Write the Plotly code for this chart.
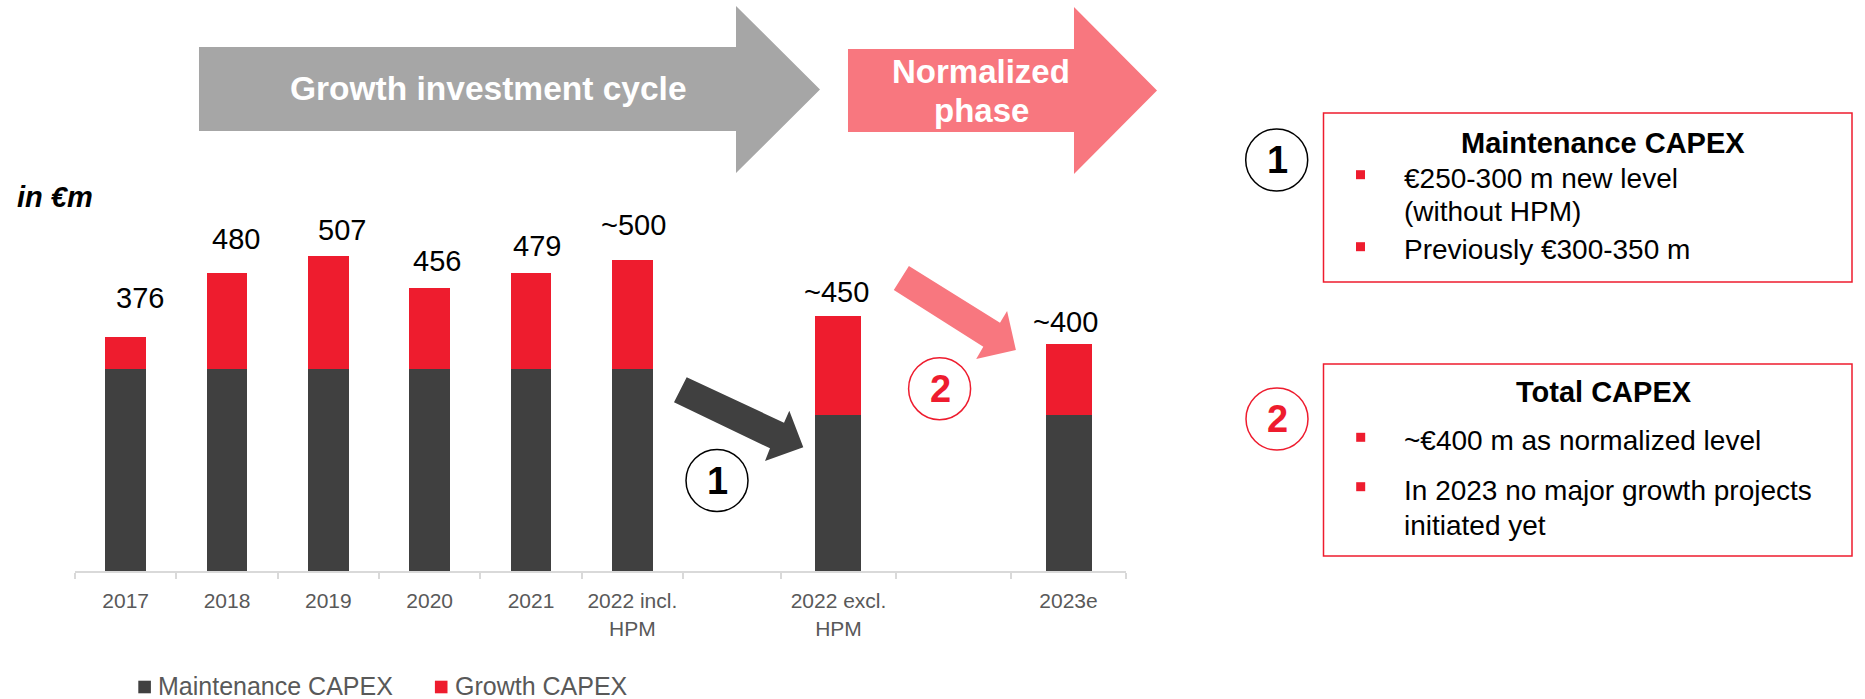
import plotly.graph_objects as go

# ---------------- data ----------------
series_names = ["Maintenance CAPEX", "Growth CAPEX"]

categories_left = ["2017", "2018", "2019", "2020", "2021", "2022 incl.<br>HPM"]
maintenance_left = [325, 325, 325, 325, 325, 325]
growth_left = [51, 155, 182, 131, 154, 175]
total_labels_left = ["376", "480", "507", "456", "479", "~500"]

categories_right = ["2022 excl.<br>HPM", "2023e"]
maintenance_right = [275, 275]
growth_right = [175, 125]
total_labels_right = ["~450", "~400"]

# ---------------- style / layout helpers ----------------
W, H = 1865, 699
FONT = "Liberation Sans, Arial, sans-serif"
DARK = "#404040"
RED = "#EE1C2E"
PINK = "#F8777F"
GREY_ARROW = "#A6A6A6"
AXIS_GREY = "#D9D9D9"
TXT_GREY = "#595959"
series_colors = [DARK, RED]


def fx(x):
    return x / W


def fy(y):
    return 1 - y / H


def poly(points):
    return "M " + " L ".join(f"{fx(x):.5f},{fy(y):.5f}" for x, y in points) + " Z"


x_left = list(range(len(categories_left)))
x_right = [1, 3]  # slots on the right panel (gaps between)

label_shift_left = [(14, 21), (9, 16), (14, 8), (7, 9), (6, 9), (1, 17)]
label_shift_right = [(-2, 6), (-3, 4)]

fig = go.Figure()
for name, color, yl, yr in [(series_names[0], DARK, maintenance_left, maintenance_right),
                            (series_names[1], RED, growth_left, growth_right)]:
    fig.add_trace(go.Bar(x=x_left, y=yl, name=name,
                         marker=dict(color=color, line=dict(width=0)), width=0.4,
                         xaxis="x", yaxis="y", hoverinfo="skip", showlegend=False))
    fig.add_trace(go.Bar(x=x_right, y=yr, name=name,
                         marker=dict(color=color, line=dict(width=0)), width=0.4,
                         xaxis="x2", yaxis="y2", hoverinfo="skip", showlegend=False))

annotations = []
for i, lab in enumerate(total_labels_left):
    dx, dy = label_shift_left[i]
    annotations.append(dict(x=x_left[i], y=maintenance_left[i] + growth_left[i],
                            xref="x", yref="y", text=lab, showarrow=False,
                            yanchor="bottom", xshift=dx, yshift=dy,
                            font=dict(size=29, color="black", family=FONT)))
for i, lab in enumerate(total_labels_right):
    dx, dy = label_shift_right[i]
    annotations.append(dict(x=x_right[i], y=maintenance_right[i] + growth_right[i],
                            xref="x2", yref="y2", text=lab, showarrow=False,
                            yanchor="bottom", xshift=dx, yshift=dy,
                            font=dict(size=29, color="black", family=FONT)))


def txt(x, y, text, size=28, color="black", xanchor="center"):
    annotations.append(dict(x=fx(x), y=fy(y), xref="paper", yref="paper", text=text,
                            showarrow=False, xanchor=xanchor, yanchor="middle",
                            font=dict(size=size, color=color, family=FONT)))


# phase arrows text
txt(489, 89, "<b>Growth investment cycle</b>", 33.5, "white")
txt(981, 71, "<b>Normalized</b>", 33, "white")
txt(981, 111, "<b>phase</b>", 33, "white")
txt(15, 197, "<b><i>in €m</i></b>", 29, "black", "left")

# circled numbers
txt(717, 481, "<b>1</b>", 38, "black")
txt(940, 389, "<b>2</b>", 38, RED)
txt(1277, 160, "<b>1</b>", 38, "black")
txt(1277, 419, "<b>2</b>", 38, RED)

# right boxes text
txt(1603, 142.5, "<b>Maintenance CAPEX</b>", 29)
txt(1402, 178.7, "€250-300 m new level", 28, xanchor="left")
txt(1402, 211, "(without HPM)", 28, xanchor="left")
txt(1402, 249.5, "Previously €300-350 m", 28, xanchor="left")
txt(1603.5, 392, "<b>Total CAPEX</b>", 29)
txt(1402, 440.5, "~€400 m as normalized level", 28, xanchor="left")
txt(1402, 490.5, "In 2023 no major growth projects", 28, xanchor="left")
txt(1402, 525.8, "initiated yet", 28, xanchor="left")

shapes = []
# big phase arrows
shapes.append(dict(type="path", xref="paper", yref="paper", fillcolor=GREY_ARROW, line=dict(width=0),
                   path=poly([(199, 47), (736, 47), (736, 6), (820, 89.5), (736, 173), (736, 131), (199, 131)]),
                   layer="below"))
shapes.append(dict(type="path", xref="paper", yref="paper", fillcolor=PINK, line=dict(width=0),
                   path=poly([(848, 49), (1074, 49), (1074, 7), (1157, 90.5), (1074, 174), (1074, 132), (848, 132)]),
                   layer="below"))
# small diagonal arrows
shapes.append(dict(type="path", xref="paper", yref="paper", fillcolor=DARK, line=dict(width=0),
                   path=poly([(686.7, 377.3), (784, 422.7), (789.3, 410.7), (803.3, 447.3),
                              (765, 461), (770, 448.3), (674, 402.3)])))
shapes.append(dict(type="path", xref="paper", yref="paper", fillcolor=PINK, line=dict(width=0),
                   path=poly([(908.9, 266), (1000, 322.7), (1007.1, 311), (1015.9, 350),
                              (976.2, 359), (983.3, 346.7), (893.8, 290)])))


def circle(cx, cy, color, r=31):
    shapes.append(dict(type="circle", xref="paper", yref="paper",
                       x0=fx(cx - r), x1=fx(cx + r), y0=fy(cy + r), y1=fy(cy - r),
                       line=dict(color=color, width=1.5), fillcolor="rgba(0,0,0,0)"))


circle(717, 480.5, "black")
circle(939.6, 388.7, RED)
circle(1276.7, 160, "black")
circle(1277, 419, RED)

# boxes
for (y0, y1) in [(113, 282), (364, 556)]:
    shapes.append(dict(type="rect", xref="paper", yref="paper",
                       x0=fx(1323.5), x1=fx(1852), y0=fy(y1), y1=fy(y0),
                       line=dict(color=RED, width=1.5), fillcolor="rgba(0,0,0,0)"))
# bullets
for (bx, by) in [(1360.5, 174.7), (1360.5, 246.7), (1360.7, 437.3), (1360.7, 486.7)]:
    shapes.append(dict(type="rect", xref="paper", yref="paper",
                       x0=fx(bx - 4.5), x1=fx(bx + 4.5), y0=fy(by + 4.5), y1=fy(by - 4.5),
                       line=dict(width=0), fillcolor=RED))

# legend (drawn as key squares + labels at the bottom)
legend_pos = [(144.6, 155.5), (441.2, 453)]
for (sq_cx, tx), name, color in zip(legend_pos, series_names, series_colors):
    shapes.append(dict(type="rect", xref="paper", yref="paper",
                       x0=fx(sq_cx - 6.3), x1=fx(sq_cx + 6.3), y0=fy(693.3), y1=fy(680.7),
                       line=dict(width=0), fillcolor=color))
    annotations.append(dict(x=fx(tx), y=fy(686), xref="paper", yref="paper", text=name,
                            showarrow=False, xanchor="left", yanchor="middle",
                            font=dict(size=25, color=TXT_GREY, family=FONT)))

y_dom = [fy(571), fy(180)]
xaxis_common = dict(showgrid=False, zeroline=False, showline=True, linecolor=AXIS_GREY,
                    linewidth=2, ticks="", tickfont=dict(size=21, color=TXT_GREY, family=FONT),
                    ticklabelstandoff=10, fixedrange=True)

fig.update_layout(
    width=W, height=H, autosize=False,
    margin=dict(l=0, r=0, t=0, b=0),
    paper_bgcolor="white", plot_bgcolor="white",
    barmode="stack", bargap=0.6,
    font=dict(family=FONT),
    xaxis=dict(domain=[fx(75), fx(683)], range=[-0.5, 5.5], anchor="y",
               tickmode="array", tickvals=x_left, ticktext=categories_left,
               minor=dict(tickmode="array", tickvals=[i - 0.5 for i in range(7)],
                          ticks="outside", ticklen=6, tickcolor=AXIS_GREY, tickwidth=1.5),
               **xaxis_common),
    yaxis=dict(domain=y_dom, range=[0, 391 / 0.6215], visible=False, fixedrange=True),
    xaxis2=dict(domain=[fx(683), fx(1126)], range=[-0.352, 3.5], anchor="y2",
                tickmode="array", tickvals=x_right, ticktext=categories_right,
                minor=dict(tickmode="array", tickvals=[0.5, 1.5, 2.5, 3.5],
                           ticks="outside", ticklen=6, tickcolor=AXIS_GREY, tickwidth=1.5),
                **xaxis_common),
    yaxis2=dict(domain=y_dom, range=[0, 391 / 0.5675], visible=False, fixedrange=True),
    showlegend=False,
    annotations=annotations,
    shapes=shapes,
)

fig.write_html("out.html")
